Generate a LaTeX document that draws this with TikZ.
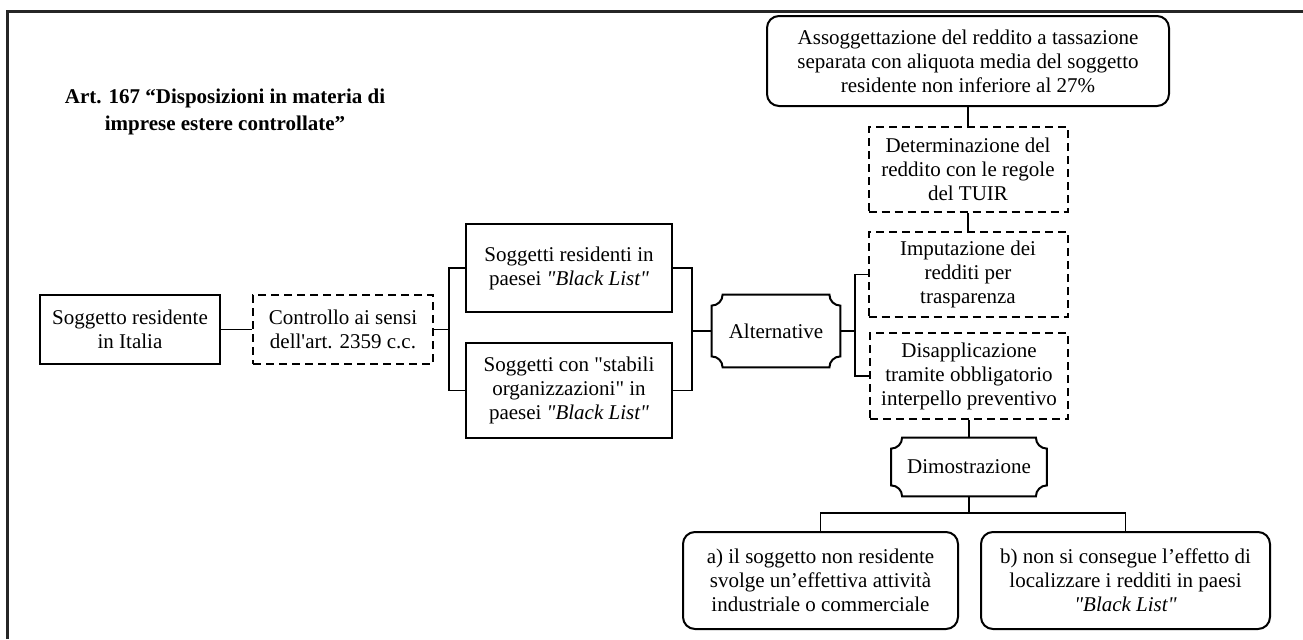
\documentclass[tikz,border=0pt]{standalone}
\usepackage{fontspec}
\setmainfont{Liberation Serif}[Ligatures=TeXOff]

% frame with concave corners round a named node
\newcommand\plaque[1]{%
  \draw[line width=1pt] ([xshift=5.5pt]#1.north west) -- ([xshift=-5.5pt]#1.north east)
    arc[start angle=180, end angle=270, radius=5.5pt] -- ([yshift=5.5pt]#1.south east)
    arc[start angle=90, end angle=180, radius=5.5pt] -- ([xshift=5.5pt]#1.south west)
    arc[start angle=0, end angle=90, radius=5.5pt] -- ([yshift=-5.5pt]#1.north west)
    arc[start angle=270, end angle=360, radius=5.5pt] -- cycle;}

\begin{document}
\begin{tikzpicture}[x=0.5pt, y=-0.5pt,
    txt/.style = {align=center, inner sep=0pt, font=\fontsize{10.5}{12}\selectfont},
    box/.style = {txt, draw, line width=1pt},
    dbox/.style = {box, dash pattern=on 4pt off 2.5pt},
    rbox/.style = {box, rounded corners=6pt},
    link/.style = {line width=0.9pt}]
    \useasboundingbox (0,0) rectangle (1303,639);
    \draw[line width=1.5pt, black!85] (7,639) -- (7,11) -- (1303,11);

    \node[txt, font=\fontsize{10.5}{13.5}\selectfont\bfseries] (titolo) at (225,112) {Art. 167 “Disposizioni in materia di\\imprese estere controllate”};

    \node[box, minimum width=90pt, minimum height=34.5pt] (soggetto) at (130,329.5) {Soggetto residente\\in Italia};
    \node[dbox, minimum width=90pt, minimum height=34.5pt] (controllo) at (343,329.5) {Controllo ai sensi\\dell'art. 2359 c.c.};
    \node[box, minimum width=103pt, minimum height=44pt] (resid) at (569,268) {Soggetti residenti in\\paesei \textit{"Black List"}};
    \node[box, minimum width=103pt, minimum height=47.5pt] (stabili) at (569,390.5) {Soggetti con "stabili\\organizzazioni" in\\paesei \textit{"Black List"}};
    \node[txt, minimum width=64pt, minimum height=36pt] (alt) at (776,331) {Alternative};
    \plaque{alt}

    \node[rbox, minimum width=201pt, minimum height=45pt] (tass) at (968,61) {Assoggettazione del reddito a tassazione\\separata con aliquota media del soggetto\\residente non inferiore al 27\%};
    \node[dbox, minimum width=99.5pt, minimum height=42.5pt] (determ) at (968,169.5) {Determinazione del\\reddito con le regole\\del TUIR};
    \node[dbox, minimum width=99.5pt, minimum height=42.5pt] (imput) at (968,274.5) {Imputazione dei\\redditi per\\trasparenza};
    \node[dbox, minimum width=99pt, minimum height=43pt] (disap) at (969,376) {Disapplicazione\\tramite obbligatorio\\interpello preventivo};
    \node[txt, minimum width=77.5pt, minimum height=29pt] (dimo) at (969,467) {Dimostrazione};
    \plaque{dimo}
    \node[rbox, minimum width=137.5pt, minimum height=48.5pt] (attiv) at (820.5,580.5) {a) il soggetto non residente\\svolge un’effettiva attività\\industriale o commerciale};
    \node[rbox, minimum width=144.5pt, minimum height=48.5pt] (redd) at (1125.5,580.5) {b) non si consegue l’effetto di\\localizzare i redditi in paesi\\\textit{"Black List"}};

    \coordinate (jl) at (449,329.5);
    \coordinate (jr) at (692,331);
    \coordinate (ja) at (855,331);
    \coordinate (jd) at (969,513);

    \draw[link] (soggetto) -- (controllo);
    \draw[link] (controllo) -- (jl);
    \draw[link] (resid.west) -| (jl) |- (stabili.west);
    \draw[link] (resid.east) -| (jr) |- (stabili.east);
    \draw[link] (jr) -- (alt.west);
    \draw[link] (alt.east) -- (ja);
    \draw[link] (imput.west) -| (ja) |- (disap.west);
    \draw[link] (tass) -- (determ);
    \draw[link] (determ) -- (imput);
    \draw[link] (disap) -- (dimo.north);
    \draw[link] (dimo.south) -- (jd);
    \draw[link] (attiv.north) |- (jd) -| (redd.north);
\end{tikzpicture}
\end{document}
